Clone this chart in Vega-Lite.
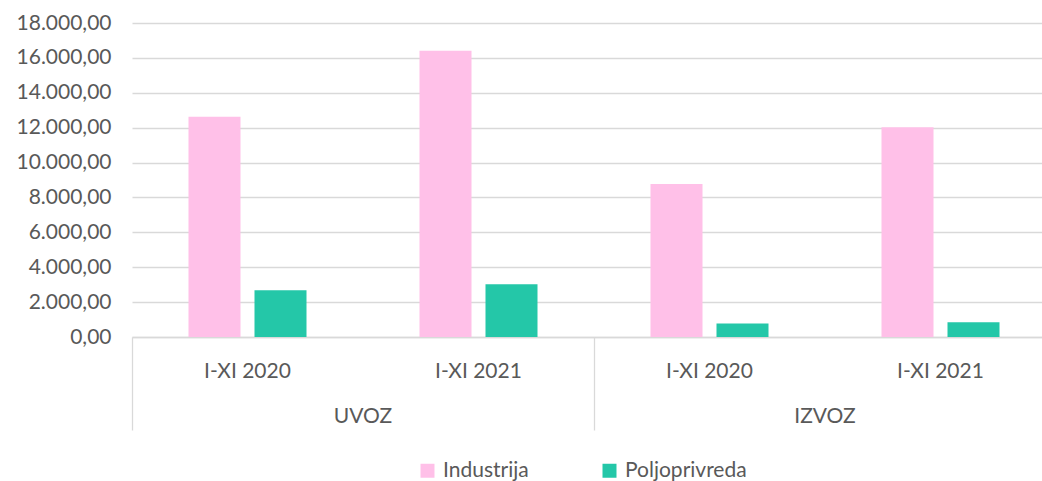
{
  "$schema": "https://vega.github.io/schema/vega-lite/v6.json",
  "autosize": {"type": "none"},
  "padding": {"left": 132, "top": 23, "right": -14, "bottom": 144},
  "width": 924,
  "height": 314,
  "background": "white",
  "config": {
    "view": {"stroke": null},
    "font": "Lato",
    "locale": {"number": {"decimal": ",", "thousands": ".", "grouping": [3], "currency": ["", ""]}},
    "axis": {"labelFont": "Lato", "labelColor": "#595959", "labelFontSize": 21}
  },
  "data": {
    "values": [
      {"key": "UVOZ|I-XI 2020", "group": "UVOZ", "period": "I-XI 2020", "series": "Industrija", "value": 12620},
      {"key": "UVOZ|I-XI 2020", "group": "UVOZ", "period": "I-XI 2020", "series": "Poljoprivreda", "value": 2680},
      {"key": "UVOZ|I-XI 2021", "group": "UVOZ", "period": "I-XI 2021", "series": "Industrija", "value": 16410},
      {"key": "UVOZ|I-XI 2021", "group": "UVOZ", "period": "I-XI 2021", "series": "Poljoprivreda", "value": 3030},
      {"key": "IZVOZ|I-XI 2020", "group": "IZVOZ", "period": "I-XI 2020", "series": "Industrija", "value": 8770},
      {"key": "IZVOZ|I-XI 2020", "group": "IZVOZ", "period": "I-XI 2020", "series": "Poljoprivreda", "value": 770},
      {"key": "IZVOZ|I-XI 2021", "group": "IZVOZ", "period": "I-XI 2021", "series": "Industrija", "value": 12020},
      {"key": "IZVOZ|I-XI 2021", "group": "IZVOZ", "period": "I-XI 2021", "series": "Poljoprivreda", "value": 845}
    ]
  },
  "encoding": {
    "xOffset": {"field": "series", "type": "nominal", "sort": ["Industrija", "Poljoprivreda"], "scale": {"paddingInner": 0.212, "paddingOuter": 0.856}},
    "y": {
      "field": "value", "type": "quantitative",
      "scale": {"domain": [0, 18000], "nice": false},
      "axis": {"values": [0, 2000, 4000, 6000, 8000, 10000, 12000, 14000, 16000, 18000], "format": ",.2f", "title": null, "domain": false, "ticks": false, "grid": true, "gridColor": "#D9D9D9", "gridWidth": 1.3, "labelPadding": 21}
    },
    "color": {
      "field": "series", "type": "nominal",
      "scale": {"domain": ["Industrija", "Poljoprivreda"], "range": ["#FFC0E8", "#24C7A8"]},
      "legend": {"orient": "none", "legendX": 285, "legendY": 437, "direction": "horizontal", "title": null, "symbolType": "square", "symbolSize": 196, "symbolStrokeWidth": 0, "symbolOpacity": 1, "labelFontSize": 21, "labelColor": "#595959", "labelFont": "Lato", "columnPadding": 70, "labelOffset": 5, "padding": 0}
    }
  },
  "layer": [
    {
      "transform": [{"filter": "datum.series === 'Industrija'"}],
      "mark": {"type": "bar"},
      "encoding": {
        "x": {
          "field": "key", "type": "nominal",
          "sort": ["UVOZ|I-XI 2020", "UVOZ|I-XI 2021", "IZVOZ|I-XI 2020", "IZVOZ|I-XI 2021"],
          "scale": {"paddingInner": 0, "paddingOuter": 0},
          "axis": {"orient": "bottom", "title": null, "ticks": false, "domain": true, "domainColor": "#D9D9D9", "domainWidth": 1.3, "labelPadding": 23, "labelAngle": 0, "grid": false, "labelExpr": "split(datum.label, '|')[1]"}
        }
      }
    },
    {
      "transform": [{"filter": "datum.series === 'Poljoprivreda'"}],
      "mark": {"type": "bar"},
      "encoding": {
        "x": {
          "field": "key", "type": "nominal",
          "sort": ["UVOZ|I-XI 2020", "UVOZ|I-XI 2021", "IZVOZ|I-XI 2020", "IZVOZ|I-XI 2021"],
          "axis": {
            "orient": "bottom", "title": null, "domain": false, "ticks": true, "bandPosition": 0, "tickSize": 93, "tickWidth": 1.3,
            "tickColor": {"condition": {"test": "indexof(datum.value, 'I-XI 2020') >= 0", "value": "#D9D9D9"}, "value": "transparent"},
            "labelExpr": "datum.value === 'UVOZ|I-XI 2020' ? 'UVOZ' : datum.value === 'IZVOZ|I-XI 2020' ? 'IZVOZ' : ''",
            "labelOffset": 115.5, "labelPadding": -25, "labelAngle": 0, "grid": false, "labelOverlap": false
          }
        }
      }
    }
  ],
  "resolve": {"axis": {"x": "independent"}}
}
